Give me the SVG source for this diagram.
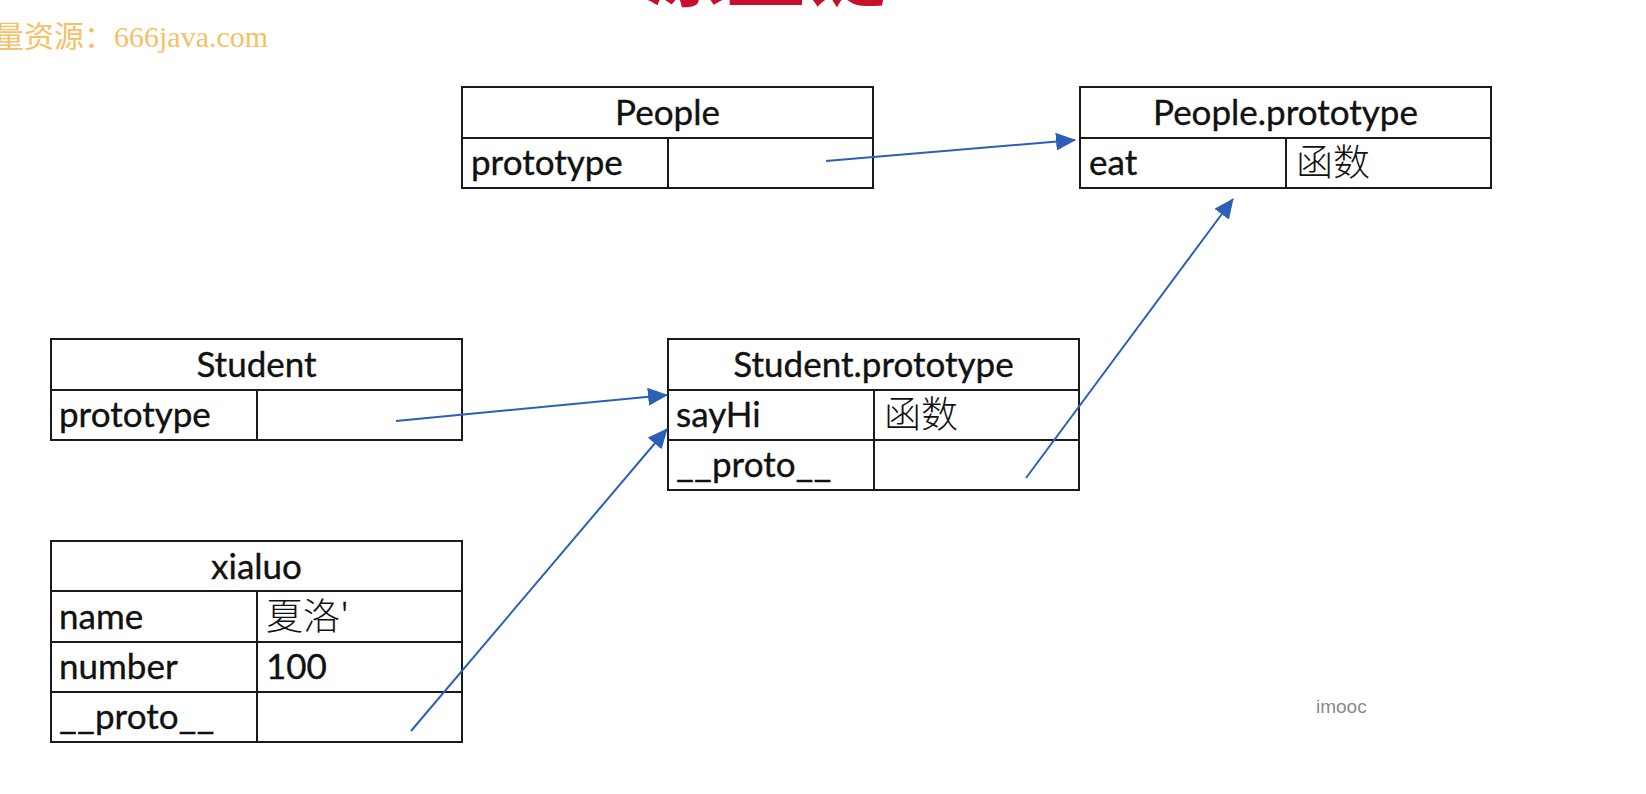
<svg xmlns="http://www.w3.org/2000/svg" width="1646" height="794" viewBox="0 0 1646 794">
  <style>
    .cell { fill: #ffffff; stroke: #1a1a1a; stroke-width: 2; }
    .div { stroke: #1a1a1a; stroke-width: 2; }
    .t { font-family: "Lato", "Liberation Sans", "Noto Sans CJK SC", sans-serif; font-size: 35px; fill: #111; stroke: #111; stroke-width: 0.35px; }
    .h { text-anchor: middle; }
    .cjk { font-family: "Noto Sans CJK SC", sans-serif; font-size: 37px; font-weight: 300; fill: #111; }
    .conn { stroke: #2b5fb8; stroke-width: 2; fill: none; marker-end: url(#arr); }
  </style>
  <defs>
    <marker id="arr" markerUnits="userSpaceOnUse" markerWidth="20" markerHeight="18" refX="19" refY="9" orient="auto">
      <path d="M0,0 L20,9 L0,18 Z" fill="#2b5fb8"/>
    </marker>
  </defs>
  <rect x="0" y="0" width="1646" height="794" fill="#ffffff"/>

  <!-- top watermark / title fragments -->
  <text x="646" y="-1" font-family="Noto Sans CJK SC, sans-serif" font-size="80" font-weight="900" fill="#c8102e">原型链</text>
  <text x="-6" y="47" font-family="Liberation Serif, Noto Sans CJK SC, serif" font-size="30" fill="#f7c064">量资源：666java.com</text>

  <g id="People">
    <rect class="cell" x="462" y="87" width="411" height="101"/>
    <line class="div" x1="462" y1="138" x2="873" y2="138"/>
    <line class="div" x1="668" y1="138" x2="668" y2="188"/>
    <text class="t h" x="667.5" y="125">People</text>
    <text class="t" x="471" y="175">prototype</text>
  </g>

  <g id="People.prototype">
    <rect class="cell" x="1080" y="87" width="411" height="101"/>
    <line class="div" x1="1080" y1="138" x2="1491" y2="138"/>
    <line class="div" x1="1286" y1="138" x2="1286" y2="188"/>
    <text class="t h" x="1285.5" y="125">People.prototype</text>
    <text class="t" x="1089" y="175">eat</text>
    <text class="cjk" x="1296" y="176">函数</text>
  </g>

  <g id="Student">
    <rect class="cell" x="51" y="339" width="411" height="101"/>
    <line class="div" x1="51" y1="390" x2="462" y2="390"/>
    <line class="div" x1="257" y1="390" x2="257" y2="440"/>
    <text class="t h" x="256.5" y="377">Student</text>
    <text class="t" x="59" y="427">prototype</text>
  </g>

  <g id="Student.prototype">
    <rect class="cell" x="668" y="339" width="411" height="151"/>
    <line class="div" x1="668" y1="390" x2="1079" y2="390"/>
    <line class="div" x1="668" y1="440" x2="1079" y2="440"/>
    <line class="div" x1="874" y1="390" x2="874" y2="490"/>
    <text class="t h" x="873.5" y="377">Student.prototype</text>
    <text class="t" x="676" y="427">sayHi</text>
    <text class="cjk" x="884" y="428">函数</text>
    <text class="t" x="676" y="477"><tspan textLength="36" lengthAdjust="spacingAndGlyphs">__</tspan>proto<tspan textLength="36" lengthAdjust="spacingAndGlyphs">__</tspan></text>
  </g>

  <g id="xialuo">
    <rect class="cell" x="51" y="541" width="411" height="201"/>
    <line class="div" x1="51" y1="591" x2="462" y2="591"/>
    <line class="div" x1="51" y1="642" x2="462" y2="642"/>
    <line class="div" x1="51" y1="692" x2="462" y2="692"/>
    <line class="div" x1="257" y1="591" x2="257" y2="742"/>
    <text class="t h" x="256.5" y="579">xialuo</text>
    <text class="t" x="59" y="629">name</text>
    <text class="cjk" x="266" y="630">夏洛'</text>
    <text class="t" x="59" y="679">number</text>
    <text class="t" x="266" y="679">100</text>
    <text class="t" x="59" y="729"><tspan textLength="36" lengthAdjust="spacingAndGlyphs">__</tspan>proto<tspan textLength="36" lengthAdjust="spacingAndGlyphs">__</tspan></text>
  </g>

  <g id="connectors">
    <line class="conn" x1="826" y1="161" x2="1075" y2="140"/>
    <line class="conn" x1="396" y1="421" x2="667" y2="395"/>
    <line class="conn" x1="411" y1="731" x2="667" y2="429"/>
    <line class="conn" x1="1026" y1="478" x2="1233" y2="199"/>
  </g>

  <text x="1316" y="713" font-family="Liberation Sans, sans-serif" font-size="19" fill="#8a8a8a">imooc</text>
</svg>
